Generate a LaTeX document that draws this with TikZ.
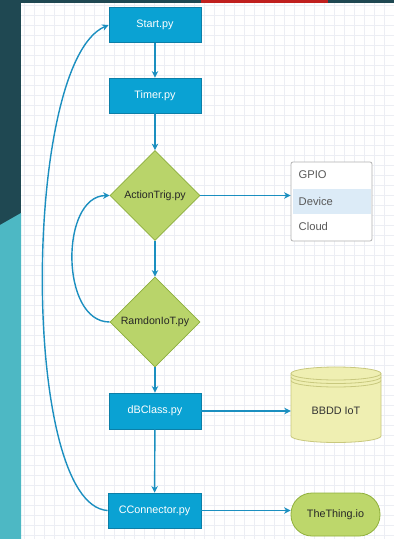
\documentclass[tikz,border=0pt]{standalone}
\usepackage{fontspec}
\setmainfont{Liberation Sans}
\usetikzlibrary{shapes.geometric,arrows.meta}
\definecolor{darkteal}{HTML}{1F4852}
\definecolor{lightteal}{HTML}{4DB8C4}
\definecolor{topred}{HTML}{C0201E}
\definecolor{gridc}{HTML}{ECEEF4}
\definecolor{boxfill}{HTML}{0AA2D3}
\definecolor{boxdraw}{HTML}{0C7FA8}
\definecolor{linec}{HTML}{1B8FC0}
\definecolor{dfill}{HTML}{B9D46A}
\definecolor{ddraw}{HTML}{8CAE3C}
\definecolor{cylfill}{HTML}{EFEFB2}
\definecolor{cyldraw}{HTML}{C8C87E}
\definecolor{tfill}{HTML}{BDD76B}
\definecolor{tdraw}{HTML}{90B03C}
\definecolor{hl}{HTML}{DCEBF7}
\begin{document}
\begin{tikzpicture}[x=1pt,y=-1pt,
  pybox/.style={rectangle,draw=boxdraw,fill=boxfill,line width=0.8pt,text=white,
    minimum width=92pt,minimum height=35pt,inner sep=0pt,font=\fontsize{10.8}{12}\selectfont},
  dia/.style={diamond,draw=ddraw,fill=dfill,line width=0.8pt,minimum width=90pt,minimum height=90pt,
    inner sep=0pt,aspect=1,text=black!85,font=\fontsize{10.6}{12}\selectfont},
  opt/.style={anchor=west,text=black!65,inner sep=0pt,font=\fontsize{11.2}{13}\selectfont},
  conn/.style={draw=linec,line width=1.4pt,-{Stealth[length=6.5pt,width=6.5pt,inset=2pt]}},
  gridl/.style={draw=gridc,line width=0.5pt}
]
\useasboundingbox (0,0) rectangle (394,539);
% background
\fill[white] (21,3) rectangle (394,539);
\foreach \gx in {24,34,...,394} {\draw[gridl] (\gx,3) -- (\gx,539);}
\foreach \gy in {5,15,...,539} {\draw[gridl] (21,\gy) -- (394,\gy);}
\fill[darkteal] (0,0) rectangle (21,539);
\fill[lightteal] (0,225) -- (21,213) -- (21,539) -- (0,539) -- cycle;
\fill[darkteal] (21,0) rectangle (394,3);
\fill[topred] (201,0) rectangle (328,3);

% main nodes
\node[pybox] (start) at (155,25) {Start.py};
\node[pybox] (timer) at (155,95.5) {Timer.py};
\node[dia] (action) at (155,195.5) {ActionTrig.py};
\node[dia] (ramdon) at (155,322) {RamdonIoT.py};
\node[pybox,minimum height=36pt] (dbclass) at (155,411) {dBClass.py};
\node[pybox,minimum width=93pt] (cconn) at (154.5,510.5) {CConnector.py};

% options list
\node[rectangle,rounded corners=2pt,draw=black!30,fill=white,line width=0.8pt,
  minimum width=81pt,minimum height=79pt] (opts) at (331.5,201.5) {};
\fill[hl] (292.5,189) rectangle (370.5,214);
\node[opt] (gpio) at (298.5,175) {GPIO};
\node[opt] (device) at (298.5,201) {Device};
\node[opt] (cloud) at (298.5,226.5) {Cloud};

% database cylinder
\filldraw[fill=cylfill,draw=cyldraw,line width=0.8pt]
  (291,373.5) -- (291,436) arc[start angle=180,end angle=0,x radius=45,y radius=6.5]
  -- (381,373.5) arc[start angle=0,end angle=-180,x radius=45,y radius=6.5] -- cycle;
\draw[cyldraw,line width=0.8pt] (291,373.5) arc[start angle=180,end angle=0,x radius=45,y radius=6.5];
\draw[cyldraw,line width=0.8pt] (291,377) arc[start angle=180,end angle=0,x radius=45,y radius=6.5];
\draw[cyldraw,line width=0.8pt] (291,380.5) arc[start angle=180,end angle=0,x radius=45,y radius=6.5];
\node[minimum width=90pt,minimum height=60pt,inner sep=0pt,text=black!80,
  font=\fontsize{10.8}{12}\selectfont] (bbdd) at (336,411) {BBDD IoT};

% TheThing
\node[rectangle,rounded corners=21pt,draw=tdraw,fill=tfill,line width=0.8pt,
  minimum width=89pt,minimum height=43pt,inner sep=0pt,text=black!85,
  font=\fontsize{10.8}{12}\selectfont] (thing) at (335.5,514.5) {TheThing.io};

% connectors
\draw[conn] (start) -- (timer);
\draw[conn] (timer) -- (action);
\draw[conn] (action) -- (ramdon);
\draw[conn] (ramdon) -- (dbclass);
\draw[conn] (dbclass) -- (cconn);
\draw[conn] (action.east) -- (action.east -| opts.west);
\draw[conn] (dbclass.east) -- (dbclass.east -| bbdd.west);
\draw[conn] (cconn.east) -- (cconn.east -| thing.west);
\draw[conn] (ramdon.west) .. controls (60,322) and (60,196) .. (action.west);
\draw[conn] (cconn.west) .. controls (20,505) and (22,62) .. (start.west);
\end{tikzpicture}
\end{document}
